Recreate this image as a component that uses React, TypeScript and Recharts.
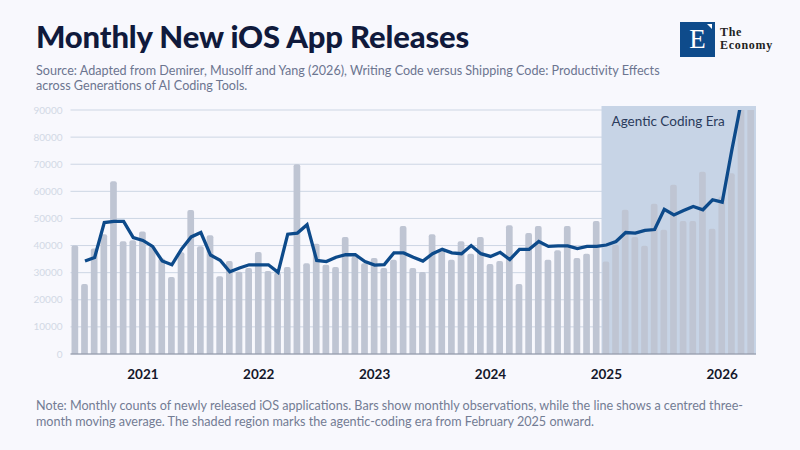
import { ComposedChart, Bar, Line, XAxis, YAxis, CartesianGrid, ReferenceArea, Label } from 'recharts'

const months = [
  '2020-06', '2020-07', '2020-08', '2020-09', '2020-10', '2020-11', '2020-12',
  '2021-01', '2021-02', '2021-03', '2021-04', '2021-05', '2021-06', '2021-07', '2021-08', '2021-09', '2021-10', '2021-11', '2021-12',
  '2022-01', '2022-02', '2022-03', '2022-04', '2022-05', '2022-06', '2022-07', '2022-08', '2022-09', '2022-10', '2022-11', '2022-12',
  '2023-01', '2023-02', '2023-03', '2023-04', '2023-05', '2023-06', '2023-07', '2023-08', '2023-09', '2023-10', '2023-11', '2023-12',
  '2024-01', '2024-02', '2024-03', '2024-04', '2024-05', '2024-06', '2024-07', '2024-08', '2024-09', '2024-10', '2024-11', '2024-12',
  '2025-01', '2025-02', '2025-03', '2025-04', '2025-05', '2025-06', '2025-07', '2025-08', '2025-09', '2025-10', '2025-11', '2025-12',
  '2026-01', '2026-02', '2026-03', '2026-04',
]

// monthly releases (bars)
const releases = [
  40000, 25800, 38900, 44200, 63700, 41600, 42000,
  45200, 39700, 35200, 28400, 37500, 53100, 39700, 43800, 28700, 34300, 30300, 31700,
  37600, 30600, 30000, 32100, 70000, 33500, 40700, 32900, 32100, 43200, 36000, 33500,
  35400, 31700, 34800, 47200, 31700, 30200, 44200, 38800, 34800, 41600, 37000, 43200,
  33200, 34300, 47500, 25800, 44600, 47200, 34800, 38300, 47200, 35400, 37000, 49100,
  34100, 40300, 53200, 43200, 39900, 55400, 45800, 62400, 49100, 49100, 67200, 46200,
  58100, 66700, 101000, 112000,
]

// centred three-month moving average (line)
const movingAvg = [
  null, 34300, 35600, 48500, 48900, 48900, 42900,
  41900, 39700, 34300, 32900, 38700, 43200, 44800, 36500, 34600, 30300, 31700, 32900,
  32900, 32900, 30100, 44200, 44600, 47700, 34500, 34100, 35700, 36600, 36600, 34100,
  32800, 33000, 37300, 37300, 35700, 34300, 37000, 38600, 37300, 37000, 40000, 37000,
  36000, 37500, 34800, 38600, 38600, 41500, 39700, 39900, 39900, 38900, 39700, 39700,
  40200, 41500, 44800, 44600, 45600, 45900, 53400, 51300, 52900, 54400, 53200, 56900,
  56000, 75300, 93500, null,
]

const yTicks = [0, 10000, 20000, 30000, 40000, 50000, 60000, 70000, 80000, 90000]

const data = months.map((m, i) => ({ month: m, releases: releases[i], avg: movingAvg[i] }))

const BG = '#f8f8fd'
const SANS = 'Lato, "Noto Sans", sans-serif'
const SERIF = '"Liberation Serif", "DejaVu Serif", serif'

export default function App() {
  return (
    <div style={{ position: 'absolute', left: 0, top: 0, width: 800, height: 450, background: BG, fontFamily: SANS, overflow: 'hidden' }}>
      <div style={{ position: 'absolute', left: 36, top: 17, fontSize: 31, fontWeight: 900, color: '#101a3c', whiteSpace: 'nowrap', letterSpacing: -0.15 }}>
        Monthly New iOS App Releases
      </div>
      <div style={{ position: 'absolute', left: 36, top: 62.5, fontSize: 12.6, color: '#6c7590', lineHeight: '15.7px', whiteSpace: 'nowrap' }}>
        <div>Source: Adapted from Demirer, Musolff and Yang (2026), Writing Code versus Shipping Code: Productivity Effects</div>
        <div>across Generations of AI Coding Tools.</div>
      </div>

      {/* logo */}
      <div style={{ position: 'absolute', left: 680, top: 22, width: 35, height: 35, background: '#0e4b8b' }}>
        <div style={{ position: 'absolute', left: 0, top: 1, width: 35, textAlign: 'center', color: '#fff', fontFamily: SERIF, fontSize: 27, lineHeight: '33px' }}>E</div>
        <div style={{ position: 'absolute', right: 3, top: 2, width: 0, height: 0, borderTop: '5px solid #fff', borderLeft: '5px solid transparent' }} />
      </div>
      <div style={{ position: 'absolute', left: 720, top: 25.8, fontFamily: SERIF, fontSize: 12, fontWeight: 700, color: '#222', lineHeight: '13.4px', letterSpacing: 0.7 }}>
        <div>The</div>
        <div>Economy</div>
      </div>

      <div style={{ position: 'absolute', left: 0, top: 0 }}>
        <ComposedChart width={800} height={450} data={data} margin={{ top: 110, right: 44, bottom: 66, left: 0 }} barCategoryGap={0}>
          <CartesianGrid vertical={false} stroke="#cdd6e4" strokeWidth={1} />
          <ReferenceArea x1="2025-01" x2="2026-04" y1={0} y2={91500} ifOverflow="visible" fill="#c7d4e6" fillOpacity={1} stroke="none">
            <Label value="Agentic Coding Era" position="insideTopLeft" offset={10} fill="#2a3b5c" fontSize={13.5} fontFamily={SANS} />
          </ReferenceArea>
          <XAxis
            dataKey="month"
            interval={0}
            height={30}
            tickLine={false}
            axisLine={{ stroke: '#8a90a0' }}
            tickMargin={9}
            tickFormatter={(m: string) => (m.endsWith('-01') ? m.slice(0, 4) : '')}
            tick={{ fontSize: 13.5, fontWeight: 700, fill: '#14172a', fontFamily: SANS }}
          />
          <YAxis
            width={70.5}
            domain={[0, 90000]}
            ticks={yTicks}
            allowDataOverflow
            axisLine={false}
            tickLine={false}
            tick={{ fontSize: 10, fill: '#d2d9e5', fontFamily: SANS }}
          />
          <Bar dataKey="releases" fill="#bfc5d3" barSize={6.7} radius={[2, 2, 0, 0]} isAnimationActive={false} />
          <Line dataKey="avg" stroke="#0d4a8a" strokeWidth={3.3} dot={false} activeDot={false} type="linear" connectNulls={false} isAnimationActive={false} />
        </ComposedChart>
      </div>

      <div style={{ position: 'absolute', left: 36, top: 398, fontSize: 12.6, color: '#737c94', lineHeight: '16px', whiteSpace: 'nowrap' }}>
        <div>Note: Monthly counts of newly released iOS applications. Bars show monthly observations, while the line shows a centred three-</div>
        <div>month moving average. The shaded region marks the agentic-coding era from February 2025 onward.</div>
      </div>
    </div>
  )
}
